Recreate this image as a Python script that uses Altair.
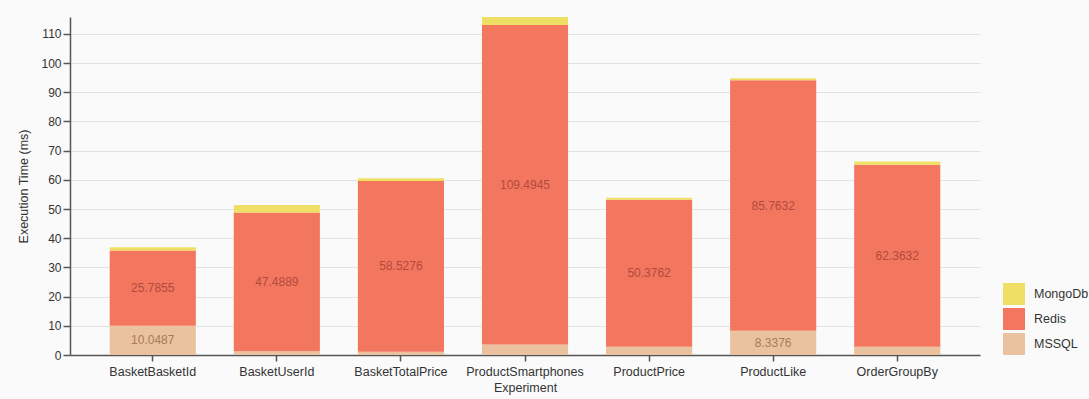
import altair as alt
import pandas as pd

# Query timings per experiment, one list per database engine
experiments = [
    "BasketBasketId", "BasketUserId", "BasketTotalPrice",
    "ProductSmartphones", "ProductPrice", "ProductLike", "OrderGroupBy",
]
mssql = [10.0487, 1.3, 1.1, 3.6, 2.8, 8.3376, 2.8]
redis = [25.7855, 47.4889, 58.5276, 109.4945, 50.3762, 85.7632, 62.3632]
mongodb = [1.1, 2.6, 0.9, 2.7, 0.7, 0.7, 1.1]

series_names = ["MongoDb", "Redis", "MSSQL"]
series_colors = ["#efe065", "#f3765f", "#eac29f"]
# stacking position: MSSQL at the bottom, MongoDb on top
stack_rank = {"MSSQL": 0, "Redis": 1, "MongoDb": 2}

rows = []
for name, values in (("MSSQL", mssql), ("Redis", redis), ("MongoDb", mongodb)):
    for exp, v in zip(experiments, values):
        rows.append({"Experiment": exp, "Database": name, "value": v,
                     "rank": stack_rank[name]})
df = pd.DataFrame(rows)

font = "Liberation Sans"

base = alt.Chart(df).transform_stack(
    stack="value",
    groupby=["Experiment"],
    as_=["y0", "y1"],
    sort=[alt.SortField("rank", order="ascending")],
).transform_calculate(
    mid="(datum.y0 + datum.y1) / 2"
)

x_axis = alt.Axis(
    labelAngle=0, labelFontSize=12.5, labelColor="#333333",
    titleFontSize=12.5, titleColor="#333333", titleFontWeight="normal",
    domainColor="#555555", domainWidth=1.5, tickColor="#555555",
    tickWidth=1.5, tickSize=6, labelPadding=4, titlePadding=4,
    labelFont=font, titleFont=font,
)
x_scale = alt.Scale(paddingInner=0.306, paddingOuter=0.32)

y_axis = alt.Axis(
    values=list(range(0, 111, 10)), labelFontSize=12, labelOverlap=False,
    labelColor="#333333", titleFontSize=12.5, titleColor="#333333",
    titleFontWeight="normal", domainColor="#555555", domainWidth=1.5,
    tickColor="#555555", tickWidth=1.5, tickSize=7, labelPadding=2,
    gridColor="#e3e3e3", gridWidth=1.2, titlePadding=10,
    labelFont=font, titleFont=font,
)
y_scale = alt.Scale(domain=[0, 115.8], nice=False)

bars = base.mark_bar().encode(
    x=alt.X("Experiment:N", sort=experiments, title="Experiment",
            scale=x_scale, axis=x_axis),
    y=alt.Y("y0:Q", title="Execution Time (ms)", scale=y_scale, axis=y_axis),
    y2="y1:Q",
    color=alt.Color(
        "Database:N",
        scale=alt.Scale(domain=series_names, range=series_colors),
        sort=series_names,
        legend=alt.Legend(
            title=None, orient="none", legendX=933, legendY=266,
            symbolType="square", symbolSize=484, symbolStrokeWidth=0,
            symbolOpacity=1, rowPadding=3, labelFontSize=12.5,
            labelColor="#333333", labelOffset=9, labelFont=font,
        ),
    ),
    order=alt.Order("rank:Q"),
)

labels = base.transform_filter("datum.value > 5").mark_text(
    fontSize=12, font=font, baseline="middle", align="center"
).encode(
    x=alt.X("Experiment:N", sort=experiments, title="Experiment",
            scale=x_scale, axis=x_axis),
    y=alt.Y("mid:Q", title="Execution Time (ms)", scale=y_scale, axis=y_axis),
    text=alt.Text("value:Q", format=".4f"),
    color=alt.condition(
        alt.datum.Database == "Redis",
        alt.value("#b24b3d"),
        alt.value("#a67c5c"),
    ),
)

chart = alt.layer(bars, labels).properties(
    width=910,
    height=338,
    background="#fafafa",
    padding={"left": 70, "top": 17, "right": 109, "bottom": 44},
    autosize=alt.AutoSizeParams(type="none"),
).configure_view(stroke=None, fill="#fafafa")

chart.save("out.html", embed_options={"renderer": "svg", "actions": False})
